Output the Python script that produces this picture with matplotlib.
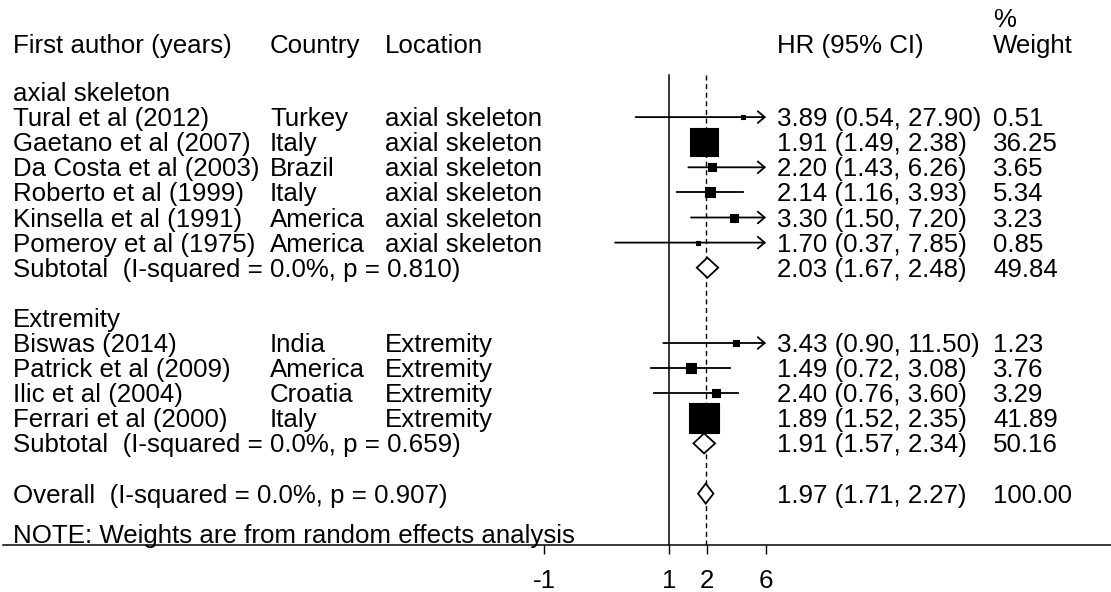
import numpy as np
import matplotlib
matplotlib.use("Agg")
import matplotlib.pyplot as plt
from matplotlib.transforms import blended_transform_factory

# ---- data ----
group_names = ["axial skeleton", "Extremity"]
authors = ["Tural et al (2012)", "Gaetano et al (2007)", "Da Costa et al (2003)",
           "Roberto et al (1999)", "Kinsella et al (1991)", "Pomeroy et al (1975)",
           "Biswas (2014)", "Patrick et al (2009)", "Ilic et al (2004)", "Ferrari et al (2000)"]
countries = ["Turkey", "Italy", "Brazil", "Italy", "America", "America",
             "India", "America", "Croatia", "Italy"]
locations = ["axial skeleton"] * 6 + ["Extremity"] * 4
group_idx = [0, 0, 0, 0, 0, 0, 1, 1, 1, 1]
hr = [3.89, 1.91, 2.20, 2.14, 3.30, 1.70, 3.43, 1.49, 2.40, 1.89]
ci_lo = [0.54, 1.49, 1.43, 1.16, 1.50, 0.37, 0.90, 0.72, 0.76, 1.52]
ci_hi = [27.90, 2.38, 6.26, 3.93, 7.20, 7.85, 11.50, 3.08, 3.60, 2.35]
weights = [0.51, 36.25, 3.65, 5.34, 3.23, 0.85, 1.23, 3.76, 3.29, 41.89]

sub_hr = [2.03, 1.91]
sub_lo = [1.67, 1.57]
sub_hi = [2.48, 2.34]
sub_w = [49.84, 50.16]
sub_i2 = ["0.0%", "0.0%"]
sub_p = ["0.810", "0.659"]

overall_hr, overall_lo, overall_hi, overall_w = 1.97, 1.71, 2.27, 100.00
overall_i2, overall_p = "0.0%", "0.907"

tick_vals = [0.1, 1, 2, 6]
tick_labels = ["-1", "1", "2", "6"]
clip_hi = 6.0

# ---- layout (pixels of the 1111x592 image) ----
W, H = 1111, 592
x_one, px_ln = 669, 54.2          # where HR=1 sits, pixels per ln unit
ax_l, ax_r = 3, W
y_row0, row_h = 92, 25.1          # centre of first row, row pitch
axis_y = 545
base_off = 0.36                   # baseline below row centre (rows)

plt.rcParams['font.family'] = ['Liberation Sans', 'DejaVu Sans']
fs = 18.6

fig = plt.figure(figsize=(W / 100, H / 100), dpi=100)
ax = fig.add_axes([ax_l / W, (H - axis_y) / H, (ax_r - ax_l) / W, axis_y / H])
ax.set_xscale('log')
ax.set_xlim(np.exp((ax_l - x_one) / px_ln), np.exp((ax_r - x_one) / px_ln))
ax.set_ylim((axis_y - y_row0) / row_h, -y_row0 / row_h)
ax.patch.set_alpha(0)
for s in ['top', 'left', 'right']:
    ax.spines[s].set_visible(False)
ax.spines['bottom'].set_linewidth(1.1)
ax.set_yticks([])
ax.set_xticks(tick_vals)
ax.set_xticklabels(tick_labels, fontsize=fs)
ax.xaxis.set_minor_locator(matplotlib.ticker.NullLocator())
ax.tick_params(axis='x', length=6.5, width=1, pad=11, direction='out')

tr = blended_transform_factory(fig.transFigure, ax.transData)
col_author, col_country, col_loc, col_hr, col_w = 13 / W, 270 / W, 385 / W, 777 / W, 993 / W


def txt(x, r, s):
    ax.text(x, r + base_off, s, transform=tr, fontsize=fs, va='baseline', ha='left',
            color='black', clip_on=False)


def ci_text(h, lo, hi):
    return f"{h:.2f} ({lo:.2f}, {hi:.2f})"


def diamond(r, h, lo, hi, half=0.4):
    ax.fill([lo, h, hi, h, lo], [r, r - half, r, r + half, r],
            facecolor='white', edgecolor='black', lw=1.3, zorder=4)


# headers
hdr_r = (53 - y_row0) / row_h - base_off
txt(col_author, hdr_r, "First author (years)")
txt(col_country, hdr_r, "Country")
txt(col_loc, hdr_r, "Location")
txt(col_hr, hdr_r, "HR (95% CI)")
txt(col_w, hdr_r, "Weight")
txt(col_w, hdr_r - 1.04, "%")

row = 0
for g, gname in enumerate(group_names):
    txt(col_author, row, gname)
    row += 1
    for i in [k for k in range(len(hr)) if group_idx[k] == g]:
        if ci_hi[i] > clip_hi:
            ax.annotate('', xy=(clip_hi, row), xytext=(ci_lo[i], row),
                        arrowprops=dict(arrowstyle='->,head_length=0.5,head_width=0.42',
                                        lw=1.3, color='black', shrinkA=0, shrinkB=0))
        else:
            ax.plot([ci_lo[i], ci_hi[i]], [row, row], color='black', lw=1.3)
        # square area proportional to the study weight
        ax.scatter([hr[i]], [row], marker='s', s=11.45 * weights[i],
                   color='black', edgecolors='black', linewidths=0.8, zorder=3)
        txt(col_author, row, authors[i])
        txt(col_country, row, countries[i])
        txt(col_loc, row, locations[i])
        txt(col_hr, row, ci_text(hr[i], ci_lo[i], ci_hi[i]))
        txt(col_w, row, f"{weights[i]:.2f}")
        row += 1
    diamond(row, sub_hr[g], sub_lo[g], sub_hi[g])
    txt(col_author, row, f"Subtotal  (I-squared = {sub_i2[g]}, p = {sub_p[g]})")
    txt(col_hr, row, ci_text(sub_hr[g], sub_lo[g], sub_hi[g]))
    txt(col_w, row, f"{sub_w[g]:.2f}")
    row += 2

diamond(row, overall_hr, overall_lo, overall_hi)
txt(col_author, row, f"Overall  (I-squared = {overall_i2}, p = {overall_p})")
txt(col_hr, row, ci_text(overall_hr, overall_lo, overall_hi))
txt(col_w, row, f"{overall_w:.2f}")

note_r = (542.5 - y_row0) / row_h - base_off
txt(col_author, note_r, "NOTE: Weights are from random effects analysis")

# reference lines: null effect (solid) and overall estimate (dashed)
top_r = (75 - y_row0) / row_h
bot_r = ax.get_ylim()[0]
ax.plot([1, 1], [top_r, bot_r], color='black', lw=1.1, zorder=1)
ax.plot([overall_hr, overall_hr], [top_r, bot_r], color='black', lw=1.0,
        linestyle=(0, (3.6, 2.6)), zorder=1)

fig.savefig("out.png", dpi=100)
